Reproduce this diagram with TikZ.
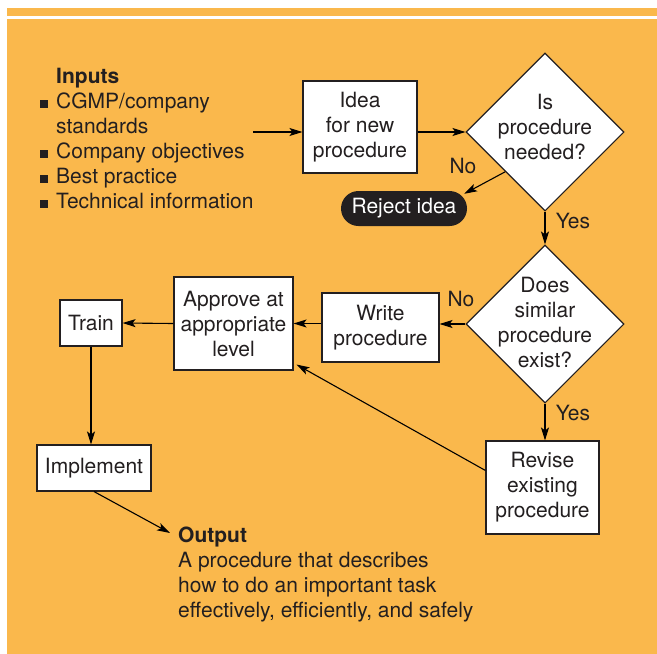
\documentclass[tikz,border=0pt]{standalone}
\usepackage{fontspec}
\setmainfont{TeX Gyre Heros}
\usetikzlibrary{shapes.geometric,arrows.meta}
\definecolor{bgor}{RGB}{250,184,76}
\definecolor{ink}{RGB}{35,31,32}
\newcommand\sqbul{\makebox[0pt][r]{\rule[0.5pt]{8pt}{8pt}\hspace{8pt}}}
\begin{document}
\begin{tikzpicture}[x=1pt,y=-1pt,
  every node/.style={font=\fontsize{21}{25}\selectfont, text=ink},
  box/.style={draw=ink, fill=white, line width=1.1pt, align=center, inner sep=0pt},
  diam/.style={draw=ink, fill=white, diamond, line width=1.1pt, minimum width=158pt, minimum height=158pt, inner sep=0pt},
  arr/.style={-{Stealth[length=13pt,width=8pt,inset=3pt]}, line width=1.1pt, draw=black},
  lbl/.style={inner sep=0pt}]
\useasboundingbox (0,0) rectangle (657,654);
\fill[bgor] (7,8) rectangle (657,15.5);
\fill[bgor] (7,19) rectangle (657,654);

\node[lbl, anchor=base west, align=left] (inputs) at (56,208) {\textbf{Inputs}\\\sqbul CGMP/company\\standards\\\sqbul Company objectives\\\sqbul Best practice\\\sqbul Technical information};
\coordinate (instart) at (253,132);
\node[box, minimum width=114pt, minimum height=92pt] (idea) at (360,127) {Idea\\for new\\procedure};
\node[diam] (d1) at (545,132) {};
\node[lbl, align=center] (d1t) at (545,127) {Is\\procedure\\needed?};
\node[fill=ink, rounded corners=17.5pt, minimum width=126pt, minimum height=35pt, text=white, inner sep=0pt] (rej) at (404,208.5) {Reject idea};
\node[lbl] (no1) at (463,166) {No};
\node[lbl] (yes1) at (573,221) {Yes};
\node[diam] (d2) at (545,324) {};
\node[lbl, align=center] (d2t) at (545,322) {Does\\similar\\procedure\\exist?};
\node[lbl] (no2) at (461,299) {No};
\node[lbl] (yes2) at (573,413) {Yes};
\node[box, minimum width=117pt, minimum height=69pt] (write) at (380.5,327.5) {Write\\procedure};
\node[box, minimum width=119pt, minimum height=93pt] (appr) at (233.5,323.5) {Approve at\\appropriate\\level};
\node[box, minimum width=62pt, minimum height=46pt] (train) at (91,323) {Train};
\node[box, minimum width=114pt, minimum height=46pt] (impl) at (94,468) {Implement};
\node[box, minimum width=113pt, minimum height=93pt] (rev) at (542.5,487.5) {Revise\\existing\\procedure};
\node[lbl, anchor=base west, align=left] (out) at (178,617) {\textbf{Output}\\A procedure that describes\\how to do an important task\\effectively, efficiently, and safely};
\coordinate (outtip) at (170,533);

\draw[arr] (instart) -- (instart -| idea.west);
\draw[arr] (idea.east |- d1.west) -- (d1.west);
\draw[arr] (d1.south west) -- ([xshift=-3pt,yshift=-3pt]rej.north east);
\draw[arr] (d1.south) -- (d2.north);
\draw[arr] (d2.west) -- (d2.west -| write.east);
\draw[arr] (write.west |- appr.east) -- (appr.east);
\draw[arr] (appr.west) -- (train.east);
\draw[arr] (train.south) -- (train.south |- impl.north);
\draw[arr] (impl.south) -- (outtip);
\draw[arr] (d2.south) -- (rev.north -| d2.south);
\draw[arr] ([yshift=17pt]rev.west) -- ([xshift=3pt,yshift=6pt]appr.south east);
\end{tikzpicture}
\end{document}
